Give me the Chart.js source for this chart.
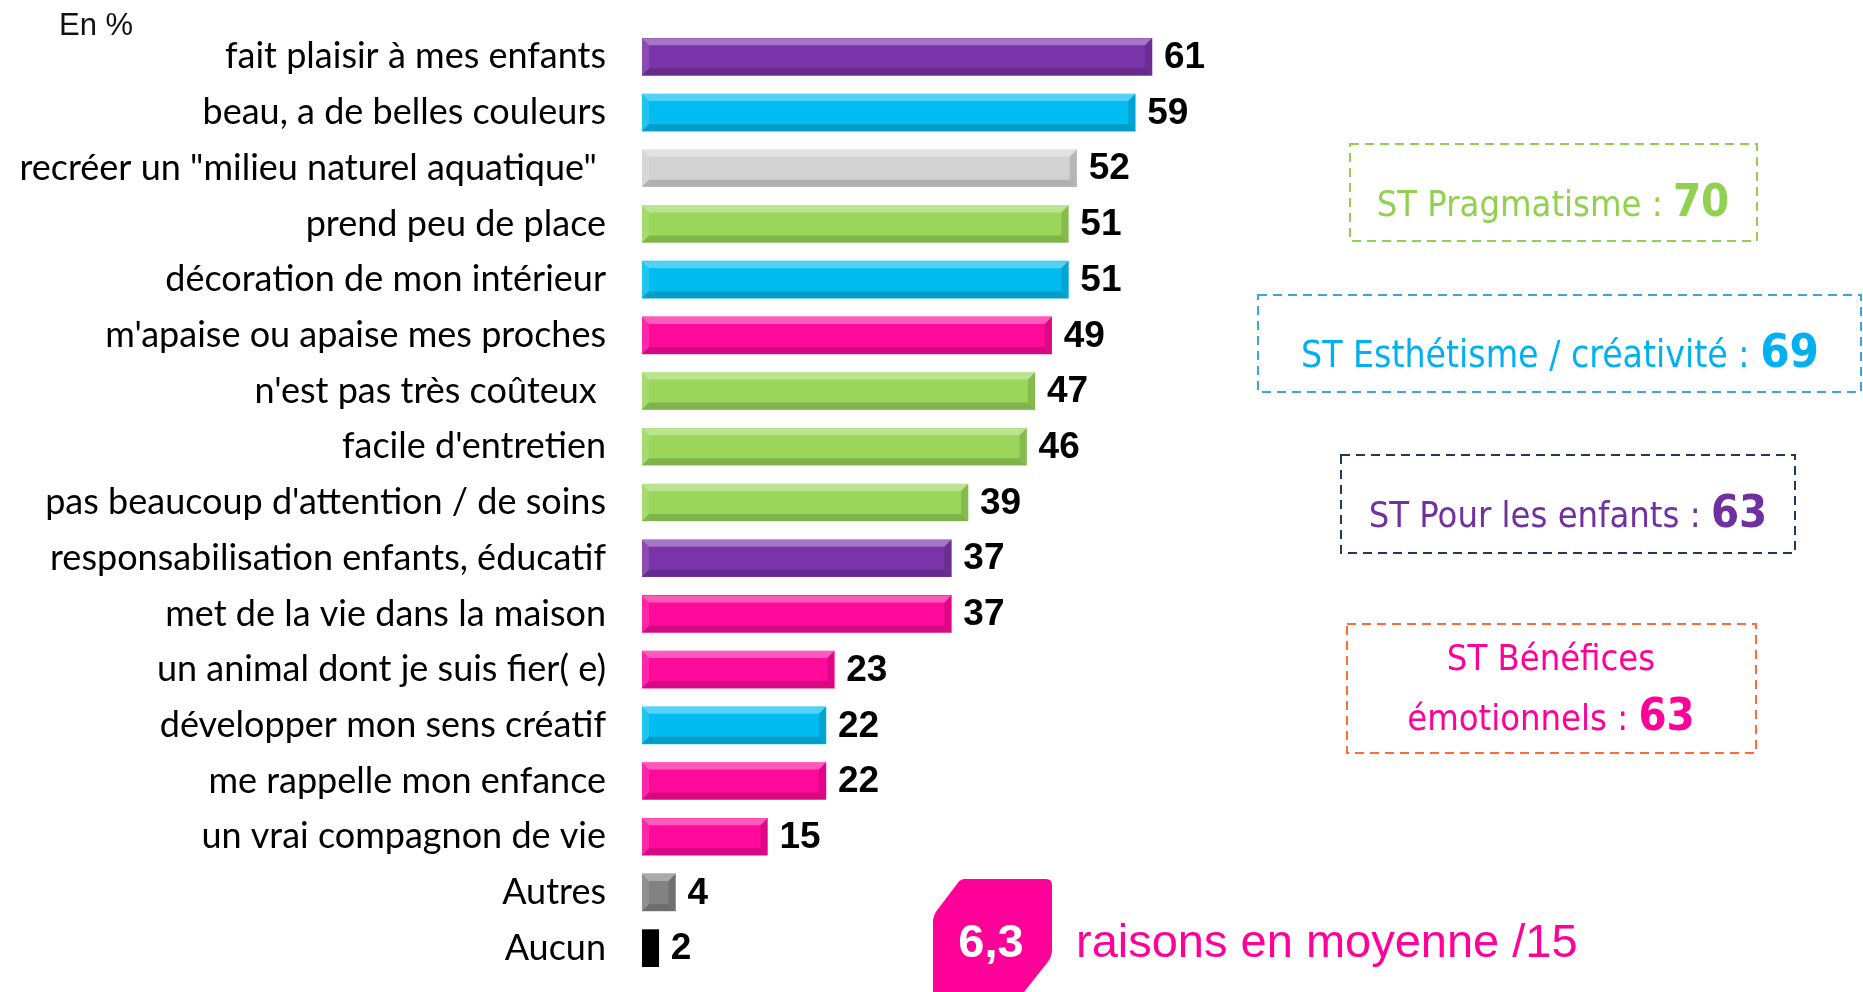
<!DOCTYPE html>
<html>
<head>
<meta charset="utf-8">
<script src="https://cdn.jsdelivr.net/npm/chart.js@4"></script>
<style>
html,body{margin:0;padding:0;background:#fff;}
#c{display:block;}
</style>
</head>
<body>
<canvas id="c" width="1863" height="992"></canvas>
<script>
const categories = [
  "fait plaisir à mes enfants",
  "beau, a de belles couleurs",
  "recréer un \"milieu naturel aquatique\" ",
  "prend peu de place",
  "décoration de mon intérieur",
  "m'apaise ou apaise mes proches",
  "n'est pas très coûteux ",
  "facile d'entretien",
  "pas beaucoup d'attention / de soins",
  "responsabilisation enfants, éducatif",
  "met de la vie dans la maison",
  "un animal dont je suis fier( e)",
  "développer mon sens créatif",
  "me rappelle mon enfance",
  "un vrai compagnon de vie",
  "Autres",
  "Aucun"
];
const values = [61, 59, 52, 51, 51, 49, 47, 46, 39, 37, 37, 23, 22, 22, 15, 4, 2];
const groups = ["enf","est","nat","prag","est","emo","prag","prag","prag","enf","emo","emo","est","emo","emo","autres","aucun"];
const groupColors = {enf:"#7b33a9", est:"#00bcf0", nat:"#d2d2d2", prag:"#9ad65a", emo:"#ff0a9b", autres:"#828282", aucun:"#000000"};

const subtotalLabels = ["ST Pragmatisme : ", "ST Esthétisme / créativité : ", "ST Pour les enfants : ", "émotionnels : "];
const subtotalValues = ["70", "69", "63", "63"];
const averageValue = "6,3";
const averageText = "raisons en moyenne /15";
const unitText = "En %";

const barColors = groups.map(g => groupColors[g]);

const bevelPlugin = {
  id: 'bevel',
  afterDatasetsDraw(chart) {
    const ctx = chart.ctx;
    chart.getDatasetMeta(0).data.forEach((bar, i) => {
      const p = bar.getProps(['x','y','base','height'], true);
      const left = Math.min(p.base, p.x), right = Math.max(p.base, p.x);
      const top = p.y - p.height/2, bottom = p.y + p.height/2;
      const w = right - left;
      if (w < 20) return;
      const b = Math.min(7, w/3);
      const poly = (pts, fill) => {
        ctx.beginPath(); ctx.moveTo(pts[0][0], pts[0][1]);
        for (let k=1;k<pts.length;k++) ctx.lineTo(pts[k][0], pts[k][1]);
        ctx.closePath(); ctx.fillStyle = fill; ctx.fill();
      };
      ctx.save();
      poly([[left,top],[right,top],[right-b,top+b],[left+b,top+b]], 'rgba(255,255,255,0.33)');
      poly([[left,bottom],[right,bottom],[right-b,bottom-b],[left+b,bottom-b]], 'rgba(0,0,0,0.16)');
      poly([[right,top],[right,bottom],[right-b,bottom-b],[right-b,top+b]], 'rgba(0,0,0,0.13)');
      poly([[left,top],[left,bottom],[left+b,bottom-b],[left+b,top+b]], 'rgba(255,255,255,0.12)');
      ctx.restore();
    });
  }
};

const valueLabelPlugin = {
  id: 'valueLabels',
  afterDatasetsDraw(chart) {
    const ctx = chart.ctx;
    ctx.save();
    ctx.font = 'bold 37px "Liberation Sans", Arial, sans-serif';
    ctx.fillStyle = '#000';
    ctx.textAlign = 'left';
    ctx.textBaseline = 'middle';
    chart.getDatasetMeta(0).data.forEach((bar, i) => {
      ctx.fillText(String(values[i]), bar.x + 12, bar.y + 1);
    });
    ctx.restore();
  }
};

function richCentered(ctx, cx, baseline, parts) {
  let total = 0;
  parts.forEach(pt => { ctx.font = pt.font; pt.w = ctx.measureText(pt.text).width; total += pt.w; });
  let x = cx - total/2;
  ctx.textAlign = 'left'; ctx.textBaseline = 'alphabetic';
  parts.forEach(pt => { ctx.font = pt.font; ctx.fillStyle = pt.color; ctx.fillText(pt.text, x, baseline); x += pt.w; });
}

const decorPlugin = {
  id: 'decor',
  afterDraw(chart) {
    const ctx = chart.ctx;
    ctx.save();
    ctx.font = '31px "Liberation Sans", Arial, sans-serif';
    ctx.fillStyle = '#111';
    ctx.textAlign = 'left'; ctx.textBaseline = 'alphabetic';
    ctx.fillText(unitText, 59, 35);

    const reg = '36px "DejaVu Sans Condensed", "DejaVu Sans", sans-serif';
    const bold = 'bold 45px "DejaVu Sans Condensed", "DejaVu Sans", sans-serif';
    const box = (x1,y1,x2,y2,color) => {
      ctx.save(); ctx.setLineDash([9,6]); ctx.lineWidth = 2; ctx.strokeStyle = color;
      ctx.strokeRect(x1,y1,x2-x1,y2-y1); ctx.restore();
    };
    box(1350,144,1757,241,'#92d050');
    richCentered(ctx, 1553, 216, [{text:subtotalLabels[0], font:reg, color:'#92d050'},{text:subtotalValues[0], font:bold, color:'#92d050'}]);

    box(1258,295,1861,392,'#3aa6e0');
    richCentered(ctx, 1560, 367, [{text:subtotalLabels[1], font:'37px "DejaVu Sans Condensed", "DejaVu Sans", sans-serif', color:'#00b0f0'},{text:subtotalValues[1], font:'bold 47px "DejaVu Sans Condensed", "DejaVu Sans", sans-serif', color:'#00b0f0'}]);

    box(1341,455,1795,553,'#1f3864');
    richCentered(ctx, 1568, 527, [{text:subtotalLabels[2], font:reg, color:'#7030a0'},{text:subtotalValues[2], font:bold, color:'#7030a0'}]);

    box(1347,624,1756,753,'#ff6a3a');
    richCentered(ctx, 1551, 670, [{text:"ST Bénéfices", font:reg, color:'#ff0099'}]);
    richCentered(ctx, 1551, 730, [{text:subtotalLabels[3], font:reg, color:'#ff0099'},{text:subtotalValues[3], font:bold, color:'#ff0099'}]);

    ctx.beginPath();
    ctx.moveTo(965, 879);
    ctx.lineTo(1046, 879);
    ctx.quadraticCurveTo(1052, 879, 1052, 885);
    ctx.lineTo(1052, 950);
    ctx.quadraticCurveTo(1052, 957, 1047, 963);
    ctx.lineTo(1024, 992);
    ctx.lineTo(933, 992);
    ctx.lineTo(933, 922);
    ctx.quadraticCurveTo(933, 915, 938, 909);
    ctx.lineTo(957, 884);
    ctx.quadraticCurveTo(960, 879, 965, 879);
    ctx.closePath();
    ctx.fillStyle = '#ff0099';
    ctx.fill();
    ctx.font = 'bold 47px "Liberation Sans", Arial, sans-serif';
    ctx.fillStyle = '#fff';
    ctx.textAlign = 'center';
    ctx.fillText(averageValue, 991, 957);
    ctx.font = '47px "Liberation Sans", Arial, sans-serif';
    ctx.fillStyle = '#ff0099';
    ctx.textAlign = 'left';
    ctx.fillText(averageText, 1076, 957);
    ctx.restore();
  }
};

new Chart(document.getElementById('c'), {
  type: 'bar',
  data: {
    labels: categories,
    datasets: [{
      data: values,
      backgroundColor: barColors,
      borderWidth: 0,
      barThickness: 37
    }]
  },
  options: {
    indexAxis: 'y',
    responsive: false,
    animation: false,
    devicePixelRatio: 1,
    layout: { padding: { left: 0, top: 29, right: 385, bottom: 16 } },
    plugins: { legend: { display: false }, tooltip: { enabled: false } },
    scales: {
      x: { min: 0, max: 100, display: false },
      y: {
        grid: { display: false, drawTicks: false },
        border: { display: false },
        ticks: {
          padding: 36,
          color: '#000',
          font: { family: 'Lato, "Open Sans", sans-serif', size: 36 }
        },
        afterFit(scale) { scale.width = 642; scale.paddingTop = 0; scale.paddingBottom = 0; }
      }
    }
  },
  plugins: [bevelPlugin, valueLabelPlugin, decorPlugin]
});
</script>
</body>
</html>
